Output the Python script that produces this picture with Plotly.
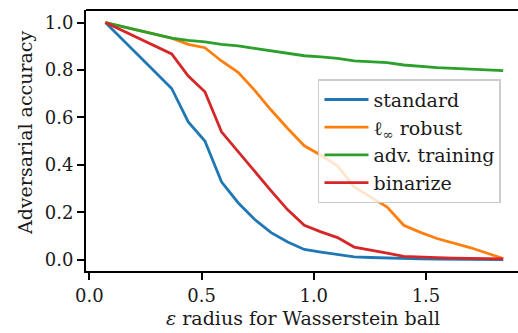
import plotly.graph_objects as go

eps = [0.072, 0.367, 0.441, 0.515, 0.589, 0.663, 0.736, 0.810, 0.884, 0.958,
       1.032, 1.106, 1.180, 1.253, 1.327, 1.401, 1.475, 1.549, 1.623, 1.696,
       1.770, 1.844]

standard = [1.0, 0.722, 0.581, 0.500, 0.328, 0.240, 0.170, 0.114, 0.074, 0.043,
            0.032, 0.023, 0.012, 0.009, 0.006, 0.004, 0.003, 0.002, 0.001, 0.001,
            0.0, 0.0]
linf_robust = [1.0, 0.934, 0.908, 0.894, 0.838, 0.790, 0.715, 0.631, 0.553, 0.480,
               0.440, 0.396, 0.307, 0.265, 0.222, 0.145, 0.115, 0.089, 0.070, 0.051,
               0.028, 0.004]
adv_training = [1.0, 0.934, 0.925, 0.919, 0.908, 0.902, 0.891, 0.881, 0.870, 0.860,
                0.855, 0.849, 0.838, 0.835, 0.831, 0.821, 0.815, 0.810, 0.807, 0.804,
                0.800, 0.797]
binarize = [1.0, 0.868, 0.774, 0.708, 0.539, 0.455, 0.370, 0.290, 0.210, 0.145,
            0.117, 0.093, 0.053, 0.039, 0.027, 0.014, 0.010, 0.008, 0.006, 0.005,
            0.004, 0.003]

names = ["standard", "ℓ<sub>∞</sub> robust", "adv. training", "binarize"]
series = [standard, linf_robust, adv_training, binarize]
colors = ["#1f77b4", "#ff7f0e", "#2ca02c", "#d62728"]

x_ticks = [0.0, 0.5, 1.0, 1.5]
y_ticks = [0.0, 0.2, 0.4, 0.6, 0.8, 1.0]

FONT = "DejaVu Serif"
TXT = "#1a1a1a"

fig = go.Figure()
for name, ys, c in zip(names, series, colors):
    fig.add_trace(go.Scatter(x=eps, y=ys, mode="lines", name=name,
                             line=dict(color=c, width=2.8)))

fig.update_layout(
    width=518, height=333,
    margin=dict(l=86, r=0, t=10, b=62, autoexpand=False),
    paper_bgcolor="white", plot_bgcolor="white",
    font=dict(family=FONT, size=18, color=TXT),
    showlegend=True,
    legend=dict(x=0.537, y=0.735, xanchor="left", yanchor="top",
                bgcolor="rgba(255,255,255,0.8)", bordercolor="#cccccc",
                borderwidth=1.5, font=dict(family=FONT, size=19, color=TXT),
                itemwidth=44, tracegroupgap=0),
    xaxis=dict(range=[-0.0147, 1.910], tickvals=x_ticks,
               ticktext=[f"{v:.1f}" for v in x_ticks],
               tickfont=dict(family=FONT, size=18, color=TXT),
               showgrid=False, zeroline=False, showline=True, linecolor="black",
               linewidth=2, ticks="outside", ticklen=7, tickwidth=1.5,
               tickcolor="black", mirror=False, automargin=False),
    yaxis=dict(range=[-0.048, 1.053], tickvals=y_ticks,
               ticktext=[f"{v:.1f}" for v in y_ticks],
               tickfont=dict(family=FONT, size=18, color=TXT),
               showgrid=False, zeroline=False, showline=True, linecolor="black",
               linewidth=2, ticks="outside", ticklen=7, tickwidth=1.5,
               tickcolor="black", mirror=False, automargin=False),
)
fig.add_shape(type="line", xref="paper", yref="paper", x0=0, x1=1, y0=1, y1=1,
              line=dict(color="black", width=2))
fig.add_annotation(text="<i>ε</i> radius for Wasserstein ball", xref="paper",
                   yref="paper", x=0.502, y=-0.18, showarrow=False,
                   xanchor="center", yanchor="middle",
                   font=dict(family=FONT, size=19, color=TXT))
fig.add_annotation(text="Adversarial accuracy", xref="paper", yref="paper",
                   x=-0.141, y=0.529, showarrow=False, textangle=-90,
                   xanchor="center", yanchor="middle",
                   font=dict(family=FONT, size=19, color=TXT))

fig.write_html("out.html", config={"displayModeBar": False},
               post_script="document.body.style.margin='0';"
                           "document.body.style.padding='0';")
